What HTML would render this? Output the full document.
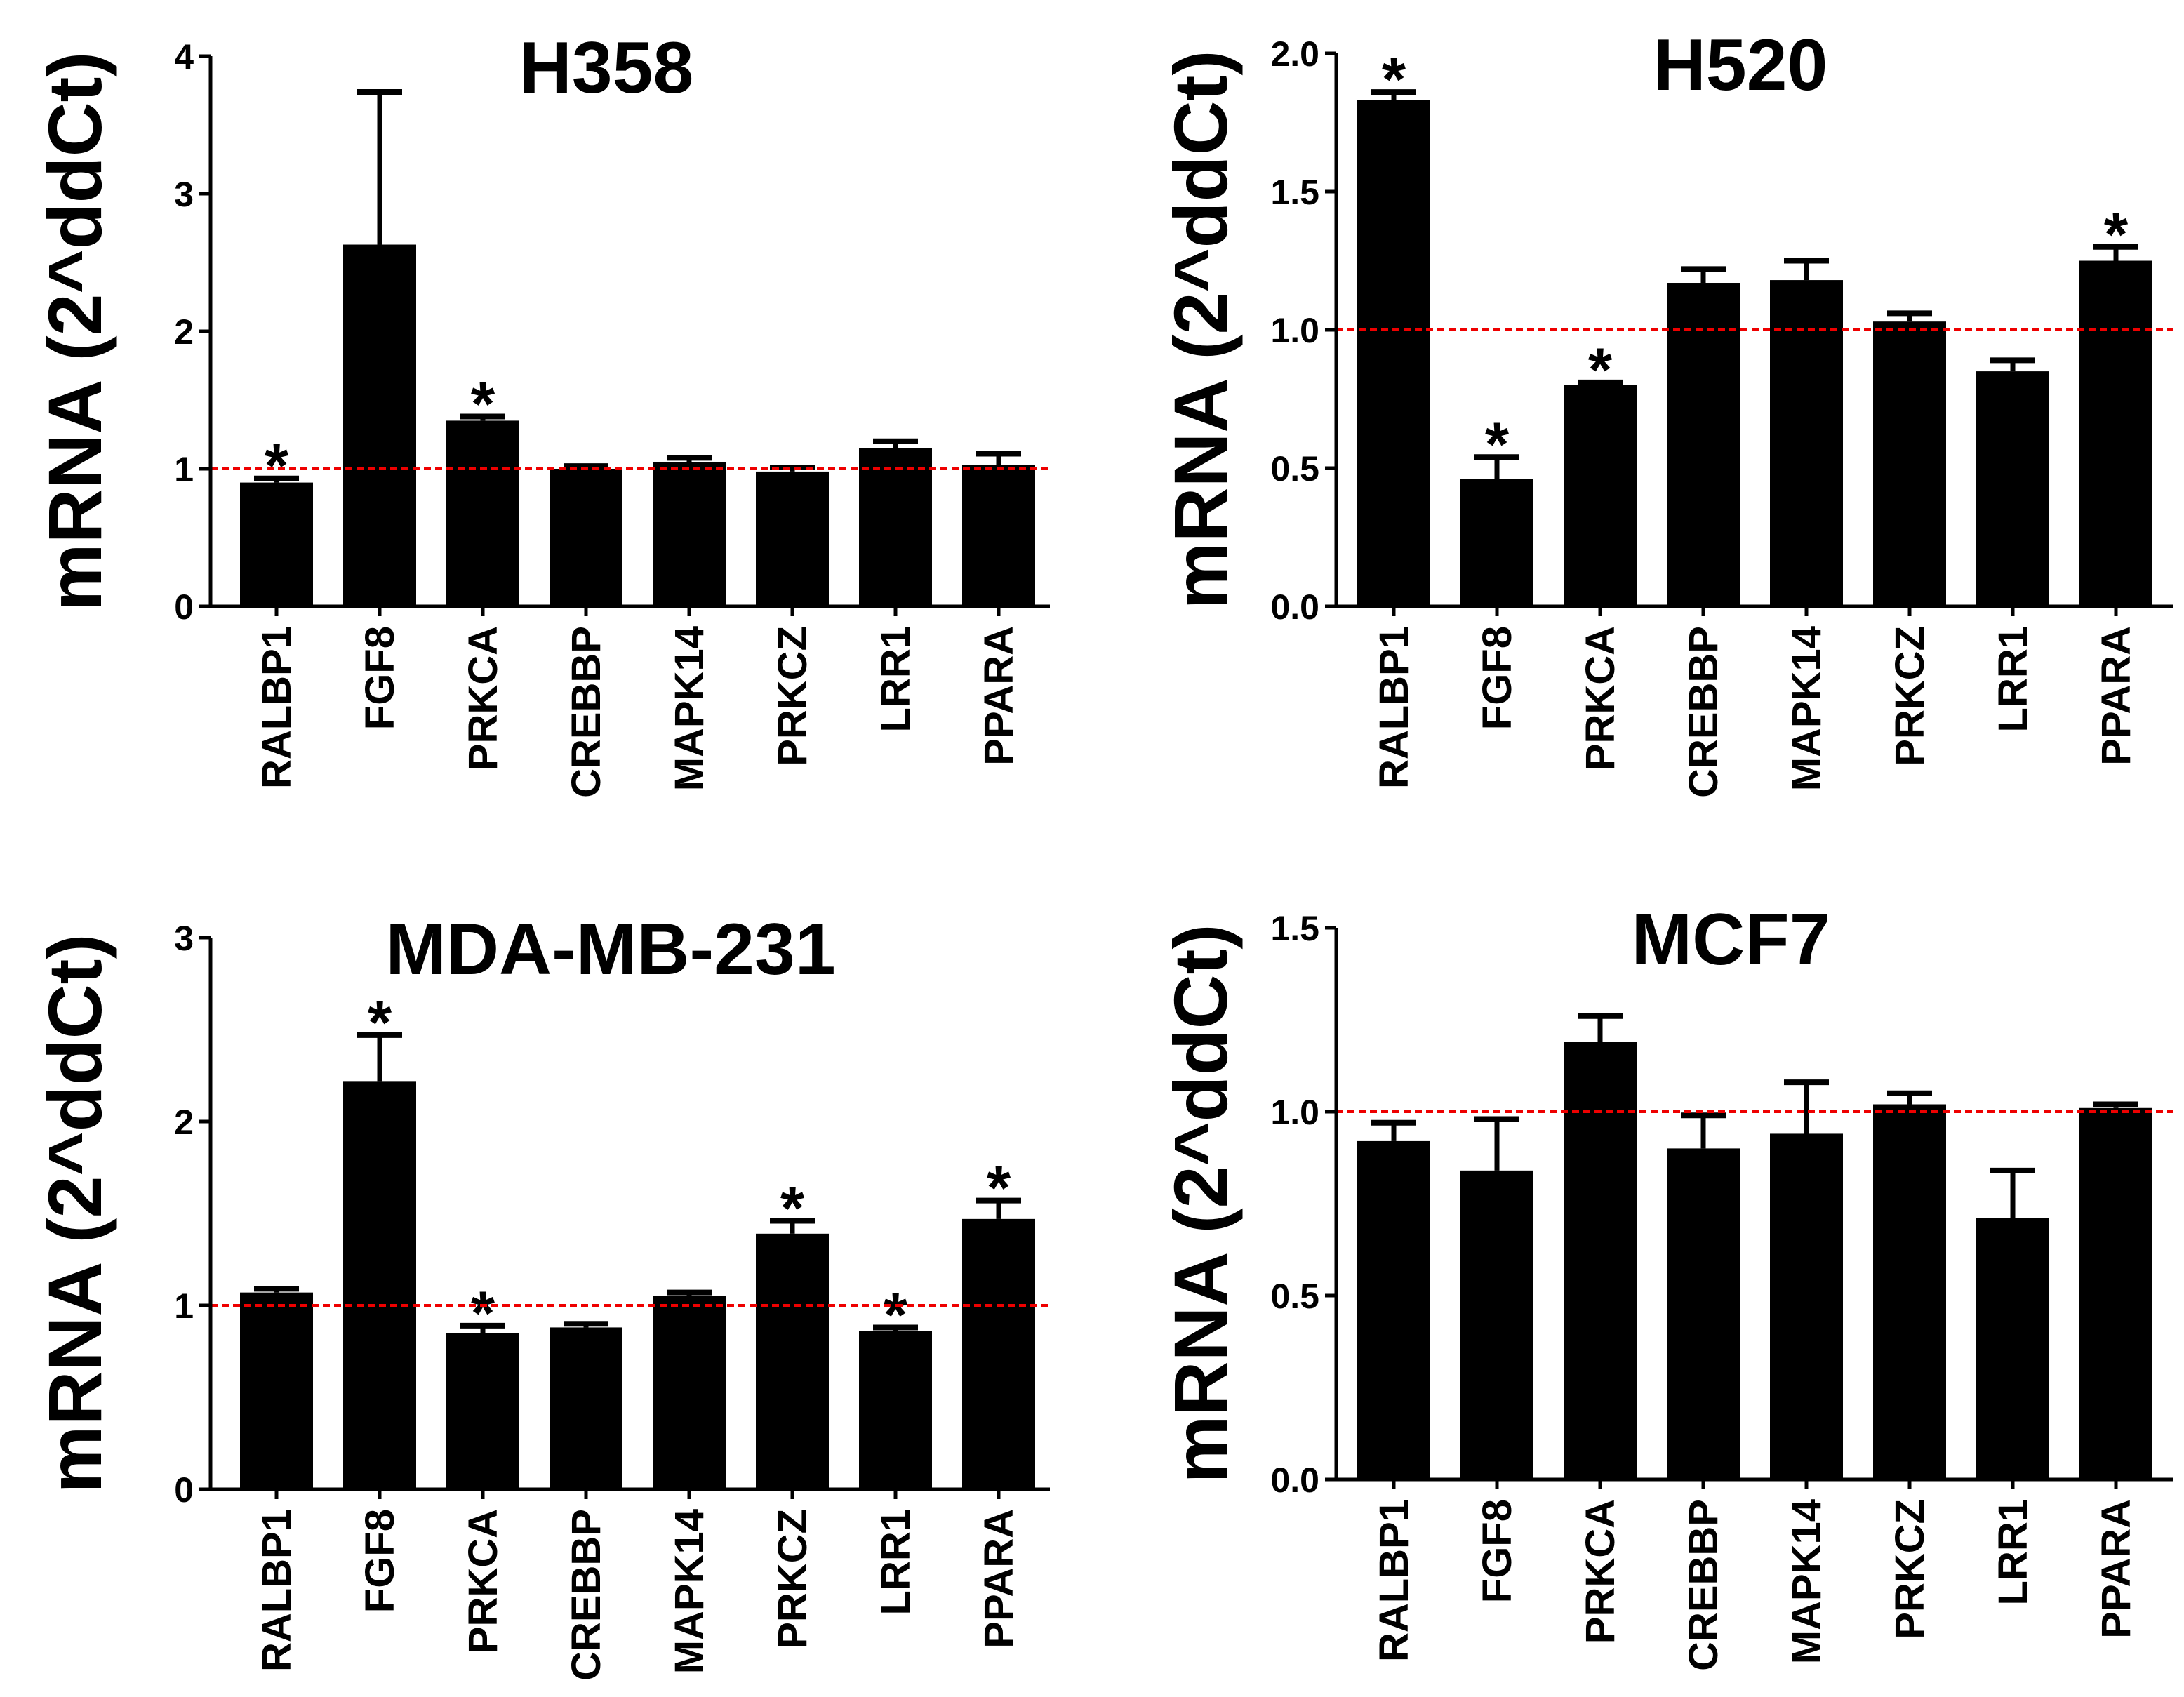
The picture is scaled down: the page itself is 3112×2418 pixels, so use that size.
<!DOCTYPE html>
<html><head><meta charset="utf-8"><style>
html,body{margin:0;padding:0;background:#fff}
svg{display:block}
text{font-family:"Liberation Sans",Arial,sans-serif;font-weight:bold;fill:#000}
</style></head><body>
<svg id="fig" width="3112" height="2418" viewBox="0 0 1556 1209" xmlns="http://www.w3.org/2000/svg"></svg>
<script>
const categories = ["RALBP1","FGF8","PRKCA","CREBBP","MAPK14","PRKCZ","LRR1","PPARA"];
const h358Values = [0.90,2.63,1.35,1.00,1.05,0.98,1.15,1.03];
const h358Errors = [0.03,1.11,0.03,0.02,0.03,0.03,0.05,0.08];
const h358Stars = [1,0,1,0,0,0,0,0];
const h358Ticks = ["0","1","2","3","4"];
const h520Values = [1.83,0.46,0.80,1.17,1.18,1.03,0.85,1.25];
const h520Errors = [0.03,0.08,0.01,0.05,0.07,0.03,0.04,0.05];
const h520Stars = [1,1,1,0,0,0,0,1];
const h520Ticks = ["0.0","0.5","1.0","1.5","2.0"];
const mdaValues = [1.07,2.22,0.85,0.88,1.05,1.39,0.86,1.47];
const mdaErrors = [0.02,0.25,0.04,0.02,0.02,0.07,0.02,0.10];
const mdaStars = [0,1,1,0,0,1,1,1];
const mdaTicks = ["0","1","2","3"];
const mcf7Values = [0.92,0.84,1.19,0.90,0.94,1.02,0.71,1.01];
const mcf7Errors = [0.05,0.14,0.07,0.09,0.14,0.03,0.13,0.01];
const mcf7Stars = [0,0,0,0,0,0,0,0];
const mcf7Ticks = ["0.0","0.5","1.0","1.5"];

const NS="http://www.w3.org/2000/svg";
const svg=document.getElementById('fig');
function mk(tag,attrs,parent){const e=document.createElementNS(NS,tag);for(const k in attrs)e.setAttribute(k,attrs[k]);(parent||svg).appendChild(e);return e;}

function panel(id,title,vals,errs,stars,ticks,ax){
  const g=mk('g',{});
  
  
  const maxV=parseFloat(ticks[ticks.length-1]);
  const y=v=>ax.y0-(v/maxV)*(ax.y0-ax.yTop);
  const step=73.5;
  const x=i=>ax.x0+ax.off+step*i;
  const bw=52;
  const yl=mk('text',{x:0,y:0,'font-size':54,'text-anchor':'middle',transform:`translate(${ax.x0-78},${(ax.y0+ax.yTop)/2}) rotate(-90)`},g);
  yl.textContent='mRNA (2^ddCt)';
  
  
  const t=mk('text',{x:ax.tx,y:ax.yTop+26,'font-size':52,'text-anchor':'middle'},g);
  t.textContent=title;
  
  
  vals.forEach((v,i)=>{
    const top=y(v), et=y(v+errs[i]);
    const b=mk('rect',{x:x(i)-bw/2,y:top,width:bw,height:ax.y0-top,fill:'#000'},g);
    
    
    mk('line',{x1:x(i),x2:x(i),y1:top,y2:et,stroke:'#000','stroke-width':3.5},g);
    const c=mk('line',{x1:x(i)-16,x2:x(i)+16,y1:et,y2:et,stroke:'#000','stroke-width':4},g);
    
    
    if(stars[i]){
      const s=mk('text',{x:x(i),y:et+6,'font-size':44,'text-anchor':'middle'},g);
      s.textContent='*';
      
      
    }
    const cl=mk('text',{x:0,y:0,'font-size':29,'text-anchor':'end',transform:`translate(${x(i)+10},${ax.y0+14}) rotate(-90)`},g);
    cl.textContent=categories[i];
    
    
    mk('line',{x1:x(i),x2:x(i),y1:ax.y0,y2:ax.y0+7,stroke:'#000','stroke-width':2.5},g);
  });
  const rl=mk('line',{x1:ax.x0,x2:ax.x1,y1:y(1),y2:y(1),stroke:'#e00','stroke-width':2,'stroke-dasharray':'5,3'},g);
  
  
  mk('line',{x1:ax.x0,x2:ax.x0,y1:ax.yTop,y2:ax.y0,stroke:'#000','stroke-width':2.5},g);
  mk('line',{x1:ax.x0,x2:ax.x1,y1:ax.y0,y2:ax.y0,stroke:'#000','stroke-width':2.5},g);
  ticks.forEach(tk=>{
    const v=parseFloat(tk),yy=y(v);
    mk('line',{x1:ax.x0-8,x2:ax.x0,y1:yy,y2:yy,stroke:'#000','stroke-width':2.5},g);
    const tl=mk('text',{x:ax.x0-12,y:yy+9,'font-size':25,'text-anchor':'end'},g);
    tl.textContent=tk;
    
    
  });
}
panel('h358','H358',h358Values,h358Errors,h358Stars,h358Ticks,{x0:150,x1:748,y0:432,yTop:40,tx:432,off:47});
panel('h520','H520',h520Values,h520Errors,h520Stars,h520Ticks,{x0:952,x1:1548,y0:432,yTop:38,tx:1240,off:41});
panel('mda','MDA-MB-231',mdaValues,mdaErrors,mdaStars,mdaTicks,{x0:150,x1:748,y0:1061,yTop:668,tx:435,off:47});
panel('mcf7','MCF7',mcf7Values,mcf7Errors,mcf7Stars,mcf7Ticks,{x0:952,x1:1548,y0:1054,yTop:661,tx:1233,off:41});
</script>
</body></html>
